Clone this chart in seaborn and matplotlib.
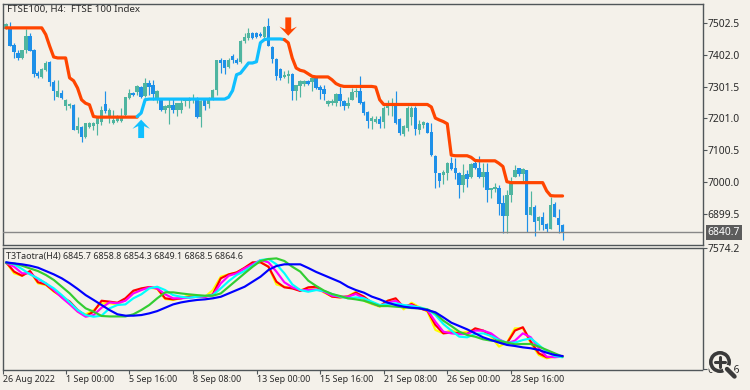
import numpy as np
import pandas as pd
import matplotlib
matplotlib.use("Agg")
import matplotlib.pyplot as plt
from matplotlib.path import Path
from matplotlib.patches import Circle
from matplotlib.transforms import blended_transform_factory
import seaborn as sns

# ---------- data ----------
title_main = "FTSE100, H4:  FTSE 100 Index"
title_osc = "T3Taotra(H4) 6845.7 6858.8 6854.3 6849.1 6868.5 6864.6"
last_price = 6840.7

opens = [7484,7484,7434,7408,7392,7416,7461,7418,7344,7332,
         7355,7378,7315,7270,7281,7239,7241,7244,7163,7175,
         7141,7175,7177,7184,7191,7247,7207,7188,7194,7194,
         7212,7265,7281,7283,7300,7273,7313,7307,7260,7258,
         7226,7233,7244,7226,7226,7255,7255,7260,7265,7205,
         7260,7247,7265,7292,7387,7385,7363,7397,7387,7378,
         7445,7455,7471,7471,7469,7459,7492,7427,7389,7358,
         7332,7336,7342,7289,7304,7311,7320,7315,7329,7300,
         7294,7247,7249,7249,7279,7255,7241,7260,7283,7289,
         7252,7220,7194,7191,7199,7191,7233,7239,7249,7199,
         7152,7170,7205,7233,7165,7181,7188,7159,7082,7027,
         7022,7027,7061,7043,7027,6990,7025,7015,7059,7043,
         7015,7033,6975,6977,6980,6934,6892,6959,7017,7043,
         7025,7038,6895,6920,6877,6890,6866,6853,6930,6885,
         6864]
closes = [7498,7431,7410,7392,7416,7461,7413,7342,7334,7357,
          7376,7315,7286,7289,7265,7260,7247,7165,7177,7141,
          7186,7188,7188,7202,7228,7223,7228,7196,7207,7207,
          7268,7281,7275,7302,7270,7313,7300,7279,7286,7226,
          7239,7244,7228,7249,7249,7260,7265,7265,7205,7255,
          7241,7265,7292,7385,7376,7360,7385,7385,7376,7445,
          7459,7471,7455,7459,7461,7490,7429,7389,7334,7329,
          7339,7342,7289,7307,7318,7320,7311,7329,7297,7292,
          7278,7255,7257,7279,7255,7241,7249,7283,7289,7249,
          7218,7194,7202,7199,7184,7233,7249,7249,7186,7154,
          7177,7233,7233,7167,7184,7191,7154,7085,7027,7004,
          7032,7061,7040,7029,6990,7022,7011,7057,7043,7015,
          7033,6975,6980,6983,6932,6892,6959,7001,7038,7025,
          7040,6895,6920,6874,6888,6864,6850,6927,6888,6864,
          6840.7]
highs = [7503,7507,7440,7418,7418,7482,7471,7421,7350,7360,
         7381,7381,7323,7323,7292,7262,7249,7247,7205,7177,
         7188,7191,7191,7207,7239,7289,7233,7228,7212,7233,
         7268,7294,7283,7307,7304,7329,7323,7323,7292,7265,
         7244,7265,7265,7249,7265,7265,7270,7279,7270,7260,
         7265,7270,7294,7387,7392,7387,7392,7403,7392,7448,
         7471,7487,7474,7474,7473,7492,7519,7429,7392,7360,
         7350,7353,7344,7307,7323,7323,7323,7332,7334,7307,
         7307,7260,7263,7281,7300,7260,7270,7297,7297,7334,
         7255,7223,7207,7207,7207,7241,7260,7265,7286,7202,
         7181,7239,7239,7241,7196,7194,7191,7188,7085,7029,
         7038,7064,7080,7075,7032,7057,7038,7059,7070,7082,
         7059,7059,6980,6996,6990,6959,6975,7015,7054,7043,
         7043,7038,6972,6927,6892,6906,6869,6953,6938,6916,
         6867]
lows = [7482,7429,7392,7387,7389,7408,7413,7332,7329,7329,
        7350,7304,7260,7270,7262,7228,7233,7163,7156,7128,
        7138,7170,7165,7149,7181,7218,7186,7184,7191,7191,
        7207,7262,7273,7276,7265,7270,7276,7260,7249,7223,
        7218,7184,7218,7207,7218,7239,7233,7249,7202,7173,
        7228,7233,7260,7276,7344,7342,7360,7376,7374,7376,
        7440,7450,7452,7455,7459,7455,7429,7376,7323,7323,
        7329,7313,7260,7260,7270,7302,7307,7289,7294,7262,
        7260,7241,7244,7241,7241,7226,7233,7260,7270,7247,
        7212,7170,7167,7186,7170,7170,7212,7207,7184,7149,
        7144,7160,7181,7149,7152,7170,7154,7082,6980,6983,
        6995,7006,7038,7011,6948,6969,6985,7012,7040,7012,
        6985,6938,6948,6969,6895,6839,6839,6938,7015,7019,
        7004,6842,6895,6829,6848,6848,6842,6850,6888,6839,
        6816]

trend_bars_down1 = list(range(0, 34))
trend_down1 = [7487,7487,7487,7487,7487,7487,7487,7487,7487,7487,
               7466,7429,7395,7392,7392,7392,7329,7320,7297,7260,
               7249,7244,7207,7205,7205,7205,7205,7205,7205,7205,
               7205,7205,7205,7205]
trend_bars_up = list(range(33, 71))
trend_up = [7207,7218,7260,7262,7262,7262,7262,7262,7262,7262,
            7262,7262,7262,7262,7262,7262,7262,7262,7262,7262,
            7262,7262,7262,7268,7289,7339,7344,7360,7376,7376,
            7380,7440,7450,7452,7452,7452,7452,7450]
trend_bars_down2 = list(range(70, 141))
trend_down2 = [7450,7440,7392,7360,7353,7350,7342,7334,7332,7332,
               7332,7332,7323,7311,7305,7302,7302,7302,7302,7302,
               7302,7302,7302,7300,7260,7245,7245,7245,7245,7245,
               7245,7245,7245,7245,7245,7245,7245,7237,7202,7196,
               7191,7184,7085,7083,7083,7083,7083,7078,7068,7067,
               7067,7067,7067,7067,7059,7049,7001,6998,6998,6998,
               6998,6998,6998,6998,6998,6998,6972,6957,6956,6956,
               6956]
arrow_up_bar, arrow_up_price = [34], [7168]
arrow_down_bar, arrow_down_price = [71], [7491]

osc_bars = list(range(0, 141, 2))
osc_yellow = [7480,7408,7392,7419,7342,7331,7287,7254,7211,7156,7139,7167,7211,7211,7204,7233,7287,7305,7314,
              7305,7239,7233,7244,7265,7254,7254,7298,7386,7401,7414,7440,7473,7484,7451,7335,7320,7309,7298,
              7309,7316,7281,7255,7250,7259,7287,7228,7206,7189,7228,7237,7171,7215,7185,7156,7036,
              7014,7036,7014,7025,7040,7032,6992,6927,6953,7047,7047,6949,6872,6850,6861,6861]
osc_red = [7480,7419,7392,7423,7349,7335,7292,7254,7222,7167,7128,7156,7228,7222,7215,7244,7294,7309,7318,
           7309,7244,7237,7244,7254,7254,7254,7270,7375,7401,7414,7445,7480,7480,7451,7353,7316,7309,7292,
           7316,7320,7287,7255,7250,7255,7281,7255,7215,7193,7228,7244,7185,7206,7178,7163,7069,
           7014,7019,7014,7010,7047,7032,7003,6959,6949,7032,7054,6959,6883,6857,6861,6865]
osc_magenta = [7475,7451,7408,7408,7370,7342,7298,7248,7204,7156,7123,7134,7182,7217,7211,7228,7276,7298,7316,
               7309,7270,7244,7244,7248,7254,7254,7265,7342,7392,7408,7440,7467,7495,7480,7419,7349,7316,7298,
               7298,7303,7287,7261,7255,7255,7272,7244,7211,7193,7215,7228,7193,7200,7178,7167,7090,
               7025,7014,7008,7010,7032,7032,7014,6975,6949,6966,7014,6988,6916,6861,6857,6861]
osc_cyan = [7480,7467,7436,7401,7375,7342,7309,7265,7217,7167,7134,7123,7130,7178,7200,7204,7244,7270,7309,
            7320,7298,7265,7254,7248,7254,7259,7265,7309,7357,7397,7423,7458,7495,7502,7467,7408,7335,7298,
            7287,7298,7292,7272,7255,7244,7250,7244,7222,7200,7206,7211,7200,7193,7185,7171,7134,
            7075,7032,6992,6988,7010,7014,6997,6970,6953,6953,6970,6981,6938,6894,6865,6857]
osc_green = [7475,7473,7458,7440,7423,7397,7364,7320,7276,7222,7178,7156,7128,7125,7125,7125,7139,7167,7200,
             7244,7283,7283,7276,7270,7265,7261,7261,7276,7320,7364,7408,7451,7489,7502,7506,7489,7451,7419,
             7360,7325,7294,7272,7259,7244,7237,7228,7211,7193,7193,7189,7185,7180,7178,7171,7145,
             7097,7062,7025,7003,6992,6975,6966,6966,6953,6942,6944,6944,6927,6905,6883,6861]
osc_blue = [7480,7473,7467,7458,7445,7423,7401,7375,7342,7305,7265,7233,7200,7167,7139,7130,7130,7134,7145,
            7160,7182,7204,7217,7226,7233,7237,7244,7254,7276,7298,7320,7353,7386,7430,7456,7467,7467,7467,
            7443,7417,7395,7373,7351,7320,7298,7281,7255,7237,7215,7200,7189,7182,7178,7167,7152,
            7119,7084,7062,7040,7014,6988,6970,6953,6938,6931,6922,6916,6905,6887,6872,6865]

price_ticks = [7502.5, 7402.0, 7301.5, 7201.0, 7100.5, 7000.0, 6899.5]
osc_ticks = [7574.2, 6776.6]
x_tick_bars = [-0.8, 15, 31, 47, 63, 79, 95, 111, 127]
x_tick_labels = ["26 Aug 2022", "1 Sep 00:00", "5 Sep 16:00", "8 Sep 08:00", "13 Sep 00:00",
                 "15 Sep 16:00", "21 Sep 08:00", "26 Sep 00:00", "28 Sep 16:00"]

# ---------- style ----------
BG = "#F4F1EA"
FRAME = "#505659"
TXT = "#2a2a2a"
UPC = "#4FB5A0"
DNC = "#1E90E8"
ORANGE = "#FF4500"
SKY = "#0FBFFF"
sns.set_theme(style="white")
plt.rcParams["font.family"] = ["Noto Sans", "DejaVu Sans"]
plt.rcParams["font.size"] = 7.4

W, H = 750, 390
fig = plt.figure(figsize=(W / 100, H / 100), dpi=100, facecolor=BG)
def axes_px(l, t, r, b):
    return fig.add_axes([l / W, 1 - b / H, (r - l) / W, (b - t) / H], facecolor=BG)

ax = axes_px(3, 3.5, 702.5, 245)
ax2 = axes_px(3, 248, 702.5, 369.5)

for a in (ax, ax2):
    a.set_xlim(-0.75, 175.2)
    for s in a.spines.values():
        s.set_color(FRAME)
        s.set_linewidth(1.0)
    a.yaxis.tick_right()
    a.tick_params(axis="y", direction="out", length=2.6, width=0.8, color=FRAME,
                  pad=1, labelsize=7.4, labelcolor=TXT, right=True, left=False)
ax.set_ylim(6801, 7564)
ax2.set_ylim(6776.6, 7574.2)

# ---------- candles ----------
df = pd.DataFrame({"bar": np.arange(len(opens)), "open": opens, "close": closes,
                   "high": highs, "low": lows})
df["up"] = df["close"] >= df["open"]
df["color"] = np.where(df["up"], UPC, DNC)
ax.vlines(df["bar"], df["low"], df["high"], colors=df["color"], linewidth=0.85, zorder=2)
ax.bar(df["bar"], (df["close"] - df["open"]).abs().clip(lower=1.5),
       bottom=df[["open", "close"]].min(axis=1), width=0.86, color=df["color"],
       linewidth=0, zorder=3)

ax.axhline(last_price, color="#888888", linewidth=1.0, zorder=4)

# ---------- trend line ----------
for bars, vals, col in [(trend_bars_down1, trend_down1, ORANGE),
                        (trend_bars_up, trend_up, SKY),
                        (trend_bars_down2, trend_down2, ORANGE)]:
    sns.lineplot(x=bars, y=vals, ax=ax, color=col, linewidth=2.3, estimator=None,
                 sort=False, legend=False, zorder=5, solid_capstyle="round",
                 solid_joinstyle="round")

up_path = Path([(0, 1), (0.95, 0.0), (0.32, 0.3), (0.32, -1), (-0.32, -1),
                (-0.32, 0.3), (-0.95, 0.0), (0, 1)], closed=True)
down_path = Path([(0, -1), (0.95, 0.0), (0.32, -0.3), (0.32, 1), (-0.32, 1),
                  (-0.32, -0.3), (-0.95, 0.0), (0, -1)], closed=True)
sns.scatterplot(x=arrow_up_bar, y=arrow_up_price, ax=ax, marker=up_path, s=175, color=SKY,
                edgecolor="none", linewidth=0, legend=False, zorder=6)
sns.scatterplot(x=arrow_down_bar, y=arrow_down_price, ax=ax, marker=down_path, s=175, color=ORANGE,
                edgecolor="none", linewidth=0, legend=False, zorder=6)

# ---------- oscillator ----------
for vals, col in [(osc_yellow, "#FFFF00"), (osc_red, "#FF0000"), (osc_magenta, "#FF00FF"),
                  (osc_cyan, "#00FFFF"), (osc_green, "#32CD32"), (osc_blue, "#0000FF")]:
    sns.lineplot(x=osc_bars, y=vals, ax=ax2, color=col, linewidth=1.55, estimator=None,
                 sort=False, legend=False)

# ---------- axes text ----------
ax.set_xticks([])
ax.set_yticks(price_ticks)
ax.set_yticklabels([f"{v:.1f}" for v in price_ticks])
ax2.set_yticks(osc_ticks)
ax2.set_yticklabels([f"{v:.1f}" for v in osc_ticks])
ax2.set_xticks(x_tick_bars)
ax2.set_xticklabels(x_tick_labels, ha="left")
ax2.tick_params(axis="x", direction="out", bottom=True, length=2.6, width=0.8, color=FRAME,
                pad=1.5, labelsize=6.45, labelcolor=TXT)
ax.set_xlabel("")
ax.set_ylabel("")
ax2.set_xlabel("")
ax2.set_ylabel("")

ax.text(4 / 699.5, 1 - 6 / 241.5, title_main, transform=ax.transAxes, ha="left", va="center",
        fontsize=7.0, color=TXT, zorder=8)
ax2.text(3.5 / 699.5, 1 - 8.7 / 121.5, title_osc, transform=ax2.transAxes, ha="left", va="center",
         fontsize=6.45, color=TXT, zorder=8)

tr = blended_transform_factory(ax.transAxes, ax.transData)
ax.text(1 + 5 / 699.5, last_price, f"{last_price:.1f}", transform=tr, ha="left", va="center",
        fontsize=7.4, color="white", clip_on=False, zorder=9,
        bbox=dict(boxstyle="square,pad=0.18", facecolor="#5c5c5c", edgecolor="none"))

# ---------- magnifier icon (interface decoration) ----------
ic = fig.add_axes([704 / W, 1 - 382 / H, 36 / W, 36 / H], facecolor="none", zorder=20)
ic.set_xlim(0, 36)
ic.set_ylim(36, 0)
ic.axis("off")
ic.add_line(plt.Line2D([23, 31], [23, 31], color=BG, lw=6, solid_capstyle="round"))
ic.add_patch(Circle((16, 16), 13, facecolor=BG, edgecolor="none"))
ic.add_line(plt.Line2D([23, 30.5], [23, 30.5], color="#3a3a3a", lw=3.2, solid_capstyle="round"))
ic.add_patch(Circle((16, 16), 9.2, facecolor="#F4F1EA", edgecolor="#3a3a3a", lw=2.6))
ic.add_line(plt.Line2D([11, 21], [16, 16], color="#3a3a3a", lw=2.2))
ic.add_line(plt.Line2D([16, 16], [11, 21], color="#3a3a3a", lw=2.2))

fig.savefig("out.png", dpi=100, facecolor=BG)
